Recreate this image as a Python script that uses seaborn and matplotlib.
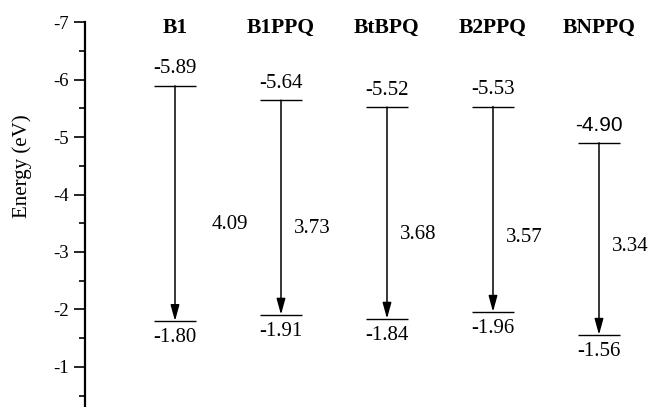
import matplotlib
matplotlib.use("Agg")
import matplotlib.pyplot as plt
import seaborn as sns

# HOMO / LUMO levels (eV) and optical gaps
molecules = ["B1", "B1PPQ", "BtBPQ", "B2PPQ", "BNPPQ"]
homo = [-5.89, -5.64, -5.52, -5.53, -4.90]
lumo = [-1.80, -1.91, -1.84, -1.96, -1.56]
gaps = [4.09, 3.73, 3.68, 3.57, 3.34]
homo_labels = ["-5.89", "-5.64", "-5.52", "-5.53", "-4.90"]
lumo_labels = ["-1.80", "-1.91", "-1.84", "-1.96", "-1.56"]
gap_labels = ["4.09", "3.73", "3.68", "3.57", "3.34"]

sns.set_theme(style="ticks")
plt.rcParams["font.family"] = ["Liberation Serif", "DejaVu Serif"]
plt.rcParams["axes.unicode_minus"] = False
plt.rcParams["text.color"] = "black"
plt.rcParams["ytick.color"] = "black"
plt.rcParams["ytick.labelcolor"] = "black"

fig = plt.figure(figsize=(6.51, 4.07), dpi=100)
ax = fig.add_axes([85 / 651, 0, 1 - 85 / 651, 1])
ax.set_facecolor("white")

xs = list(range(1, len(molecules) + 1))
half_w = 0.2

# energy levels
ax.hlines(homo, [x - half_w for x in xs], [x + half_w for x in xs], color="black", lw=1.0)
ax.hlines(lumo, [x - half_w for x in xs], [x + half_w for x in xs], color="black", lw=1.0)

# where the gap label sits along each arrow
gap_frac = [0.59, 0.6, 0.6, 0.64, 0.54]

for i, x in enumerate(xs):
    # transition arrow HOMO -> LUMO
    ax.annotate(
        "",
        xy=(x, lumo[i]),
        xytext=(x, homo[i]),
        arrowprops=dict(
            arrowstyle="-|>,head_length=0.8,head_width=0.22",
            color="black",
            lw=1.1,
            mutation_scale=12,
            shrinkA=0,
            shrinkB=0,
        ),
    )
    fam = ["Liberation Sans"] if molecules[i] == "BNPPQ" else ["Liberation Serif"]
    ax.text(x, homo[i] - 0.13, homo_labels[i], ha="center", va="bottom", fontsize=15, family=fam)
    ax.text(x, lumo[i] + 0.13, lumo_labels[i], ha="center", va="top", fontsize=15)
    dx = 0.35 if i == 0 else 0.12
    ymid = homo[i] + gap_frac[i] * (lumo[i] - homo[i])
    ax.text(x + dx, ymid, gap_labels[i], ha="left", va="center", fontsize=15)
    ax.text(x, -6.9, molecules[i], ha="center", va="center", fontsize=15.5, fontweight="bold")

ax.set_xlim(0.151, 1 + (651 - 175) / 106)
ax.set_ylim(-0.304, -7.383)
ax.set_yticks([-7, -6, -5, -4, -3, -2, -1])
ax.set_yticks([-6.5, -5.5, -4.5, -3.5, -2.5, -1.5, -0.5], minor=True)
ax.set_xticks([])
ax.tick_params(axis="y", which="major", length=8, width=1.2, labelsize=13.5, colors="black")
ax.tick_params(axis="y", which="minor", length=4, width=1.2, colors="black")
sns.despine(ax=ax, top=True, right=True, bottom=True)
ax.spines["left"].set_linewidth(1.6)
ax.spines["left"].set_color("black")
ax.spines["left"].set_bounds(-7, -0.304)

ax.text(-0.111, 0.592, "Energy (eV)", transform=ax.transAxes, rotation=90,
        ha="center", va="center", fontsize=15)

fig.savefig("out.png", dpi=100)
